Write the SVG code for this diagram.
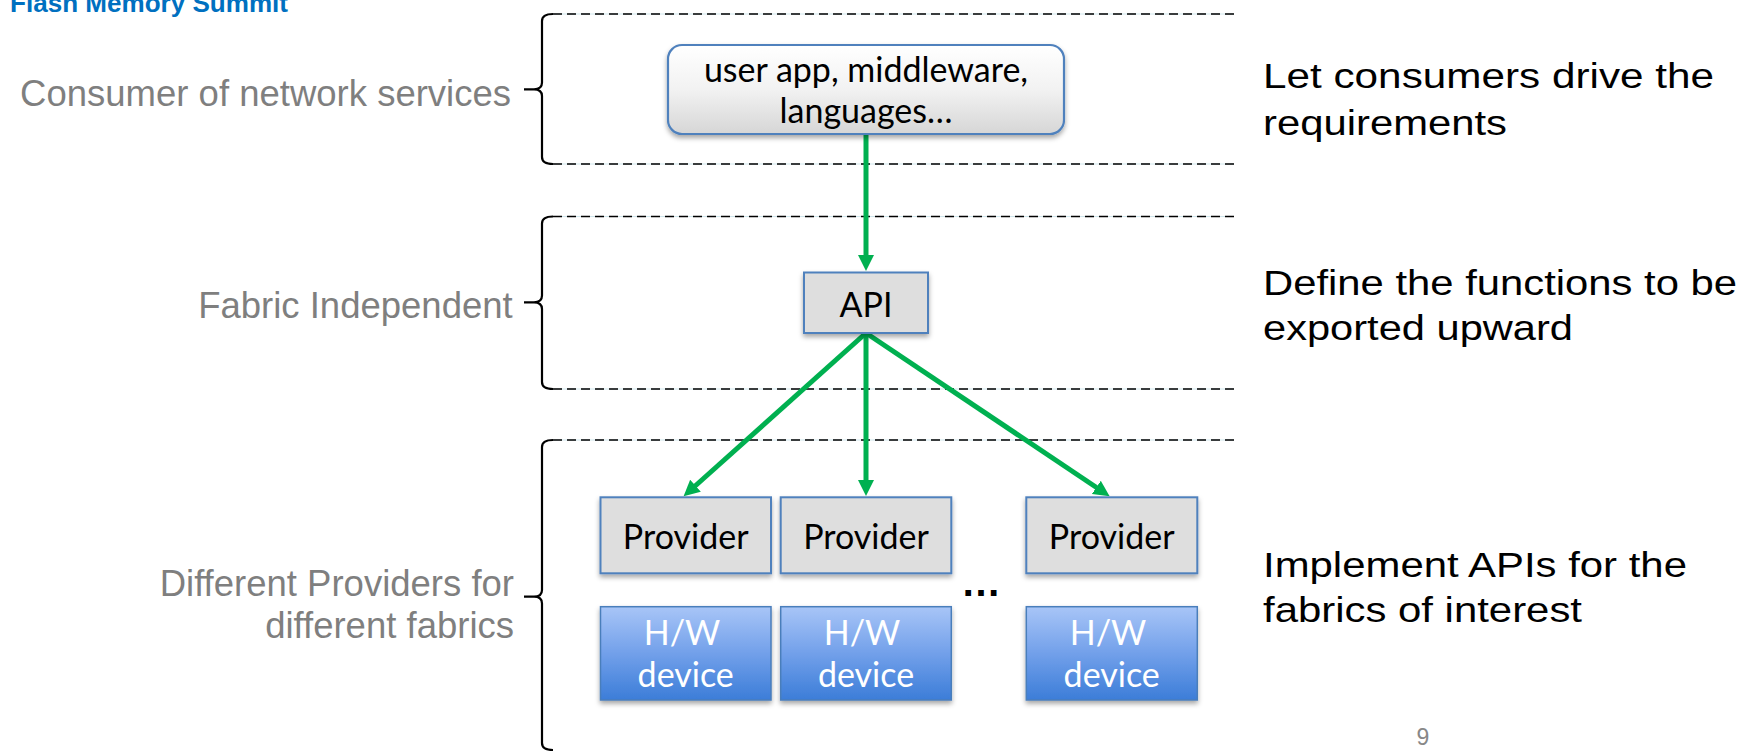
<svg xmlns="http://www.w3.org/2000/svg" width="1746" height="752" viewBox="0 0 1746 752">
<style>
.lbl{font-family:"Liberation Sans",Arial,sans-serif;font-size:36.5px;fill:#7f7f7f;text-anchor:end}
.rt{font-family:"Liberation Sans",Arial,sans-serif;font-size:35px;fill:#000}
.bx{font-family:Lato,"Open Sans",sans-serif;font-size:34px;fill:#000;text-anchor:middle}
.hw{font-family:Lato,"Open Sans",sans-serif;font-size:34px;fill:#fff;text-anchor:middle}
.dash{fill:none;stroke:#000;stroke-width:1.6;stroke-dasharray:9 5}
.tint{fill:none;stroke:#cfe6ec;stroke-width:1}
.brace{fill:none;stroke:#000;stroke-width:2.2}
.gray{fill:#dedede;stroke:#4f81bd;stroke-width:2}
.blue{fill:url(#gb);stroke:#4a7ebb;stroke-width:1.5}
.arr{stroke:#00b050;stroke-width:5;fill:none;marker-end:url(#ah)}
</style>
<defs>
<linearGradient id="gw" x1="0" y1="0" x2="0" y2="1">
<stop offset="0" stop-color="#ffffff"/><stop offset="0.5" stop-color="#f2f2f2"/><stop offset="1" stop-color="#d6d6d6"/>
</linearGradient>
<linearGradient id="gb" x1="0" y1="0" x2="0" y2="1">
<stop offset="0" stop-color="#a8c5f7"/><stop offset="0.5" stop-color="#72a0ea"/><stop offset="1" stop-color="#3c7dd8"/>
</linearGradient>
<filter id="sh" x="-10%" y="-10%" width="120%" height="130%">
<feDropShadow dx="0" dy="3" stdDeviation="2.5" flood-color="#000" flood-opacity="0.35"/>
</filter>
<marker id="ah" markerUnits="userSpaceOnUse" markerWidth="17" markerHeight="17" refX="2" refY="8" orient="auto">
<path d="M0,0 L16,8 L0,16 z" fill="#00b050"/>
</marker>
</defs>

<text x="10" y="12" font-family="'Liberation Sans',Arial,sans-serif" font-weight="bold" font-size="26" fill="#0070c0" textLength="278" lengthAdjust="spacingAndGlyphs">Flash Memory Summit</text>

<g id="layers">
<path class="tint" d="M553 14 H1234 M553 164 H1234 M553 216.5 H1234 M553 389 H1234 M553 440 H1234"/>
<path class="dash" d="M553 14 H1234 M553 164 H1234 M553 216.5 H1234 M553 389 H1234 M553 440 H1234"/>
<path class="brace" d="M553 14 Q542 14 542 21 L542 82.5 Q542 89.3 534 89.3 L524 89.3 M534 89.3 Q542 89.3 542 96 L542 157 Q542 164 553 164"/>
<path class="brace" d="M553 216.5 Q542 216.5 542 223.5 L542 295.5 Q542 302.3 534 302.3 L524 302.3 M534 302.3 Q542 302.3 542 309 L542 382 Q542 389 553 389"/>
<path class="brace" d="M553 440 Q542 440 542 447 L542 590 Q542 596.7 534 596.7 L524 596.7 M534 596.7 Q542 596.7 542 603.5 L542 743 Q542 750 553 750"/>
</g>

<g id="left-labels">
<text class="lbl" x="511" y="106">Consumer of network services</text>
<text class="lbl" x="512.7" y="318.3">Fabric Independent</text>
<text class="lbl" x="514" y="596">Different Providers for</text>
<text class="lbl" x="514" y="638.3">different fabrics</text>
</g>

<g id="right-labels">
<text class="rt" x="1263" y="88.3" textLength="451" lengthAdjust="spacingAndGlyphs">Let consumers drive the</text>
<text class="rt" x="1263" y="135" textLength="244" lengthAdjust="spacingAndGlyphs">requirements</text>
<text class="rt" x="1263" y="295" textLength="474" lengthAdjust="spacingAndGlyphs">Define the functions to be</text>
<text class="rt" x="1263" y="340" textLength="310" lengthAdjust="spacingAndGlyphs">exported upward</text>
<text class="rt" x="1263" y="576.7" textLength="424" lengthAdjust="spacingAndGlyphs">Implement APIs for the</text>
<text class="rt" x="1263" y="621.7" textLength="319" lengthAdjust="spacingAndGlyphs">fabrics of interest</text>
</g>

<g id="connectors">
<line class="arr" x1="866" y1="134" x2="866" y2="257"/>
<line class="arr" x1="866" y1="333" x2="694" y2="487"/>
<line class="arr" x1="866" y1="333" x2="866" y2="482"/>
<line class="arr" x1="866" y1="333" x2="1098" y2="488.5"/>
</g>

<g id="consumer">
<rect x="668" y="45" width="396" height="89" rx="14" fill="url(#gw)" stroke="#4f81bd" stroke-width="2.2" filter="url(#sh)"/>
<text class="bx" x="866" y="82" font-size="35">user app, middleware,</text>
<text class="bx" x="866" y="123" font-size="35">languages…</text>
</g>

<g id="api">
<rect class="gray" x="804" y="272.5" width="124" height="60.5" filter="url(#sh)"/>
<text class="bx" x="866" y="317">API</text>
</g>

<g id="provider1">
<rect class="gray" x="600.5" y="497.3" width="170.5" height="76" filter="url(#sh)"/>
<text class="bx" x="685.7" y="549">Provider</text>
</g>
<g id="provider2">
<rect class="gray" x="780.7" y="497.3" width="170.6" height="76" filter="url(#sh)"/>
<text class="bx" x="866" y="549">Provider</text>
</g>
<g id="provider3">
<rect class="gray" x="1026.3" y="497.3" width="171" height="76" filter="url(#sh)"/>
<text class="bx" x="1111.7" y="549">Provider</text>
</g>

<g id="hw1">
<rect class="blue" x="600.5" y="606.7" width="170.5" height="93.3" filter="url(#sh)"/>
<text class="hw" x="682" y="645">H/W</text>
<text class="hw" x="685.7" y="687">device</text>
</g>
<g id="hw2">
<rect class="blue" x="780.7" y="606.7" width="170.6" height="93.3" filter="url(#sh)"/>
<text class="hw" x="862" y="645">H/W</text>
<text class="hw" x="866" y="687">device</text>
</g>
<g id="hw3">
<rect class="blue" x="1026.3" y="606.7" width="171" height="93.3" filter="url(#sh)"/>
<text class="hw" x="1108" y="645">H/W</text>
<text class="hw" x="1111.7" y="687">device</text>
</g>

<text x="981" y="596" font-family="'Liberation Sans',Arial,sans-serif" font-weight="bold" font-size="40" text-anchor="middle" fill="#000">…</text>

<text x="1423" y="745" font-family="'Liberation Sans',Arial,sans-serif" font-size="23" text-anchor="middle" fill="#888888">9</text>
</svg>
